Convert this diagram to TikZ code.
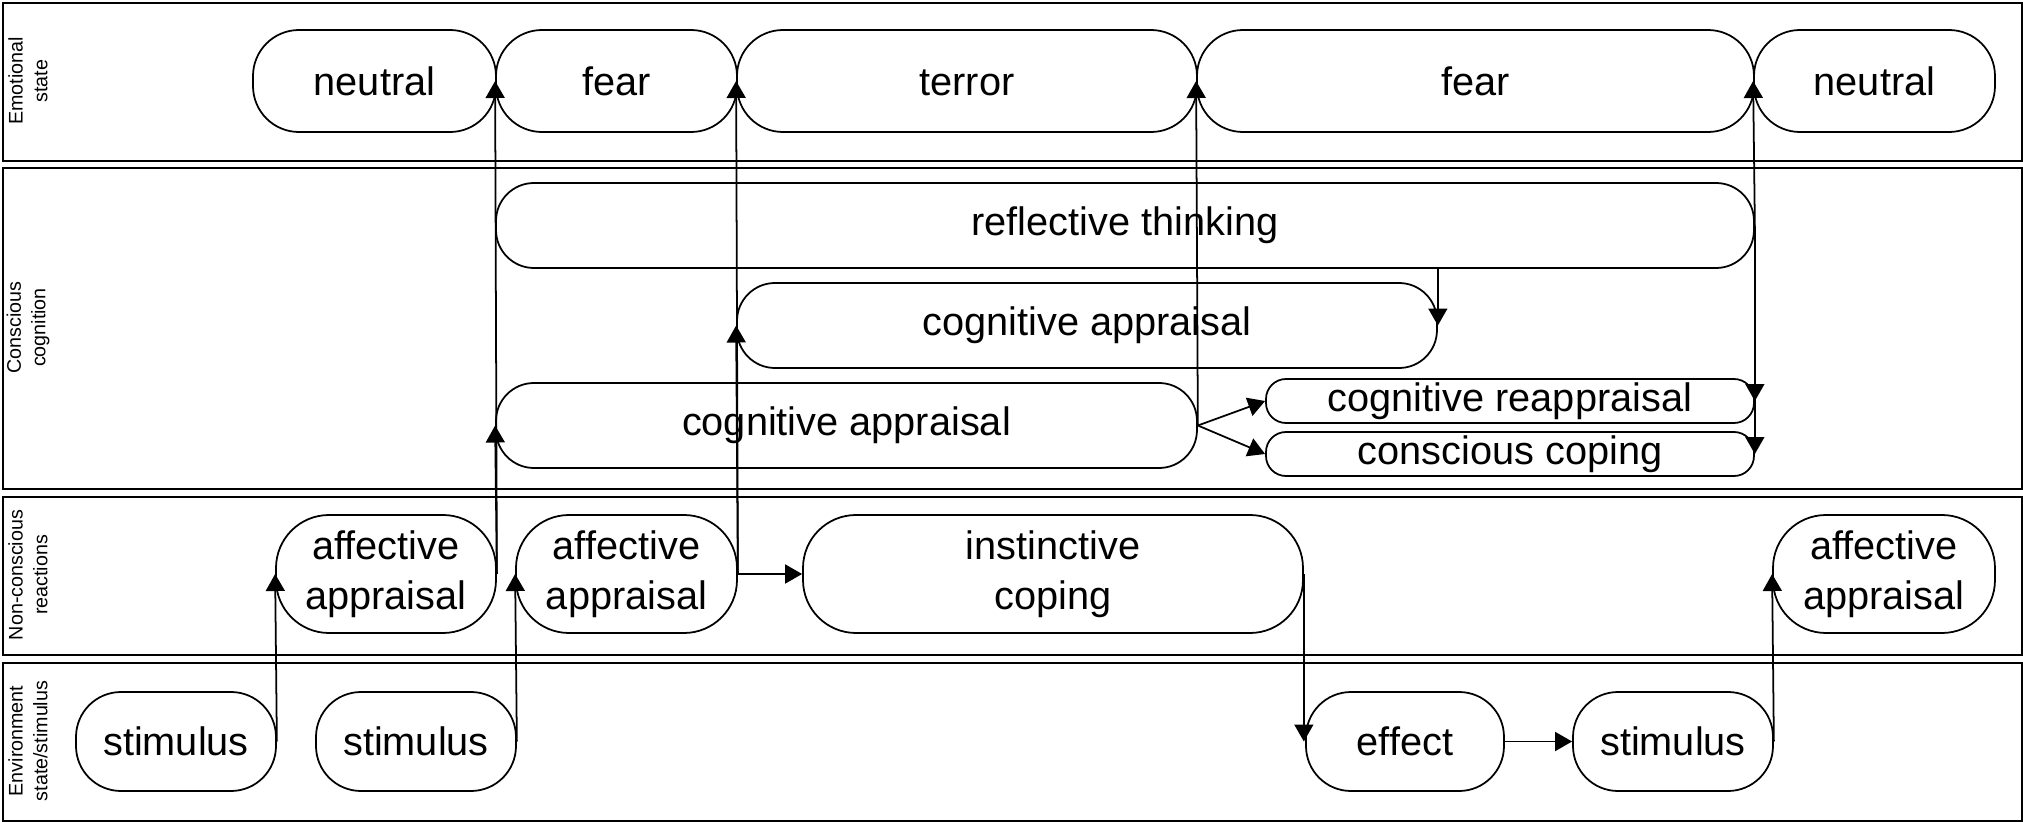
\documentclass[tikz,border=0pt]{standalone}
\usepackage{fontspec}
\setmainfont{Liberation Sans}
\usetikzlibrary{arrows.meta}
\begin{document}
\begin{tikzpicture}[x=0.1mm,y=-0.1mm,
  lane/.style={draw, line width=0.7pt, inner sep=0, anchor=north west},
  lanelbl/.style={rotate=90, font=\fontsize{5.6}{7}\selectfont, align=center, inner sep=0},
  box/.style={draw, line width=0.5pt, inner sep=0, align=center, font=\fontsize{11.3}{14.2}\selectfont},
  emo/.style={box, text height=8.1pt, minimum height=10.2mm, rounded corners=4.6mm},
  big/.style={box, minimum height=8.5mm, rounded corners=3.8mm},
  small/.style={box, minimum height=4.4mm, rounded corners=2.0mm},
  react/.style={box, minimum height=11.8mm, rounded corners=5.3mm},
  env/.style={box, minimum height=9.9mm, rounded corners=4.5mm},
  arr/.style={line width=0.5pt, -{Triangle[length=1.7mm,width=1.9mm]}},
]
\useasboundingbox (0,0) rectangle (2023,822);
% lanes
\node[lane, minimum width=201.9mm, minimum height=15.8mm] (L1) at (2,2) {};
\node[lane, minimum width=201.9mm, minimum height=32.1mm] (L2) at (2,167) {};
\node[lane, minimum width=201.9mm, minimum height=15.8mm] (L3) at (2,496) {};
\node[lane, minimum width=201.9mm, minimum height=15.8mm] (L4) at (2,662) {};
\node[lanelbl] (t1) at (28,81) {Emotional\\state};
\node[lanelbl] (t2) at (28,327.5) {Conscious\\cognition};
\node[lanelbl] (t3) at (28,575) {Non-conscious\\reactions};
\node[lanelbl] (t4) at (28,741) {Environment\\state/stimulus};
% emotional state
\node[emo, minimum width=24.3mm] (n1) at (374.5,81) {neutral};
\node[emo, minimum width=24.1mm] (f1) at (616.5,81) {fear};
\node[emo, minimum width=46.0mm] (te) at (967,81) {terror};
\node[emo, minimum width=55.7mm] (f2) at (1475.5,81) {fear};
\node[emo, minimum width=24.1mm] (n2) at (1874.5,81) {neutral};
% conscious cognition
\node[big, minimum width=125.8mm] (rt) at (1125,225.5) {reflective thinking};
\node[big, minimum width=70.0mm] (ct) at (1087,325.5) {cognitive appraisal};
\node[big, minimum width=70.1mm] (cb) at (846.5,425.5) {cognitive appraisal};
\node[small, minimum width=48.8mm] (ra) at (1510,401) {cognitive reappraisal};
\node[small, minimum width=48.8mm] (cc) at (1510,454) {conscious coping};
% non-conscious reactions
\node[react, minimum width=22.0mm] (a1) at (386,574) {affective\\appraisal};
\node[react, minimum width=22.1mm] (a2) at (626.5,574) {affective\\appraisal};
\node[react, minimum width=50.0mm] (in) at (1053,574) {instinctive\\coping};
\node[react, minimum width=22.2mm] (a3) at (1884,574) {affective\\appraisal};
% environment
\node[env, minimum width=20.0mm] (s1) at (176,741.5) {stimulus};
\node[env, minimum width=20.0mm] (s2) at (416,741.5) {stimulus};
\node[env, minimum width=19.8mm] (ef) at (1405,741.5) {effect};
\node[env, minimum width=20.0mm] (s3) at (1673,741.5) {stimulus};
% connectors
\draw[arr] (s1.east) -- (a1.west);
\draw[arr] (s2.east) -- (a2.west);
\draw[arr] (a1.east) -- (cb.west);
\draw[arr] (a1.east) -- (f1.west);
\draw[arr] (a2.east) -- (ct.west);
\draw[arr] (a2.east) -- (te.west);
\draw[arr] (a2.east) -- (in.west);
\draw[arr] (in.east) -- (in.east |- ef.west);
\draw[arr] (ef.east) -- (s3.west);
\draw[arr] (s3.east) -- (a3.west);
\draw[arr] (cb.east) -- (f2.west);
\draw[arr] (cb.east) -- (ra.west);
\draw[arr] (cb.east) -- (cc.west);
\draw[arr] (rt.south -| ct.east) -- (ct.east);
\draw[arr] (rt.east) -- (n2.west);
\draw[arr] (rt.east) -- (ra.east);
\draw[arr] (rt.east) -- (cc.east);
\end{tikzpicture}
\end{document}
